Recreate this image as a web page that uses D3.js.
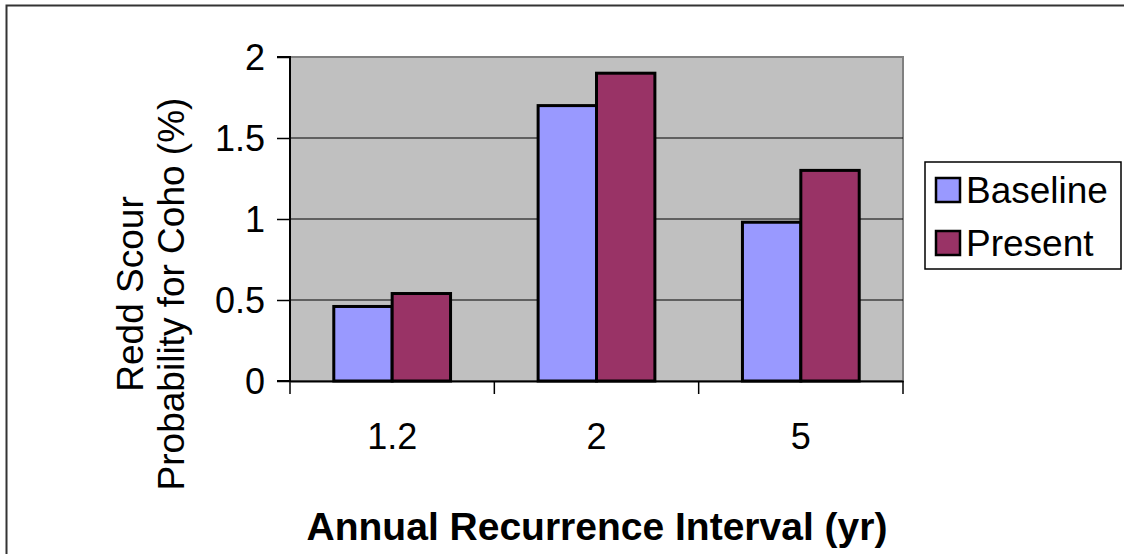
<!DOCTYPE html>
<html><head><meta charset="utf-8">
<script src="https://cdn.jsdelivr.net/npm/d3@7"></script>
<style>html,body{margin:0;padding:0;background:#fff;}svg{display:block;font-family:"Liberation Sans",Arial,sans-serif;}</style>
</head><body>
<script>
const categories = ["1.2", "2", "5"];
const seriesNames = ["Baseline", "Present"];
const baseline = [0.46, 1.70, 0.98];
const present = [0.54, 1.90, 1.30];
const yTicks = [0, 0.5, 1, 1.5, 2];
const colors = ["#9999FF", "#993366"];

const W = 1124, H = 554;
const FS = 36;
const svg = d3.select("body").append("svg").attr("width", W).attr("height", H);
svg.append("path").attr("d", "M6.5,554 V5.5 H1124").attr("fill", "none").attr("stroke", "#333").attr("stroke-width", 2);

const plot = {l: 290, r: 903, t: 57, b: 381};
const x0 = d3.scaleBand().domain(categories).range([plot.l, plot.r]).paddingInner(0).paddingOuter(0);
const bw = x0.bandwidth() / 3.5;
const x1 = d3.scaleBand().domain(seriesNames).range([0, 2 * bw]);
const y = d3.scaleLinear().domain([0, 2]).range([plot.b, plot.t]);

svg.append("rect").attr("x", plot.l).attr("y", plot.t).attr("width", plot.r - plot.l).attr("height", plot.b - plot.t)
  .attr("fill", "#C0C0C0").attr("stroke", "#808080").attr("stroke-width", 2);

svg.append("g").selectAll("line").data(yTicks.filter(d => d > 0 && d < 2)).join("line")
  .attr("x1", plot.l).attr("x2", plot.r).attr("y1", d => y(d)).attr("y2", d => y(d))
  .attr("stroke", "#000").attr("stroke-width", 1);

const data = categories.map((c, i) => ({cat: c, vals: [baseline[i], present[i]]}));
const g = svg.append("g");
data.forEach(d => {
  const gx = x0(d.cat) + (x0.bandwidth() - 2 * bw) / 2;
  g.selectAll(null).data(d.vals).join("rect")
    .attr("x", (v, j) => gx + x1(seriesNames[j]))
    .attr("y", v => y(v))
    .attr("width", bw)
    .attr("height", v => y(0) - y(v))
    .attr("fill", (v, j) => colors[j])
    .attr("stroke", "#000").attr("stroke-width", 3);
});

const yAxis = d3.axisLeft(y).tickValues(yTicks).tickSize(13).tickFormat(d3.format("~g"));
const ya = svg.append("g").attr("transform", `translate(${plot.l},0)`).call(yAxis);
ya.select(".domain").attr("stroke", "#000").attr("stroke-width", 2).attr("d", `M-13,${plot.t}H0V${plot.b}H-13`);
ya.selectAll(".tick line").attr("stroke", "#000").attr("stroke-width", 1.5);
ya.selectAll("text").attr("font-size", FS).attr("fill", "#000").attr("x", -25).attr("dy", "0.35em").attr("font-family", "Liberation Sans, Arial, sans-serif");

const xAxis = d3.axisBottom(x0).tickSize(0).tickPadding(0);
const xa = svg.append("g").attr("transform", `translate(0,${plot.b})`).call(xAxis);
xa.select(".domain").attr("stroke", "#000").attr("stroke-width", 2);
xa.selectAll(".tick text").attr("font-size", FS).attr("fill", "#000").attr("dy", 0).attr("y", 68).attr("font-family", "Liberation Sans, Arial, sans-serif");
const bounds = [plot.l, ...categories.map(c => x0(c) + x0.bandwidth())];
xa.append("g").selectAll("line").data(bounds).join("line")
  .attr("x1", d => d).attr("x2", d => d).attr("y1", 0).attr("y2", 13)
  .attr("stroke", "#000").attr("stroke-width", 1.5);

svg.append("text").attr("x", 597).attr("y", 540).attr("text-anchor", "middle")
  .attr("font-size", 39).attr("font-weight", "bold").text("Annual Recurrence Interval (yr)");
const yt = svg.append("text").attr("transform", `translate(0,${(plot.t + plot.b) / 2 + 75}) rotate(-90)`).attr("text-anchor", "middle").attr("font-size", 37);
yt.append("tspan").attr("x", 0).attr("y", 143).text("Redd Scour");
yt.append("tspan").attr("x", 0).attr("y", 184).text("Probability for Coho (%)");

const lg = svg.append("g");
lg.append("rect").attr("x", 925).attr("y", 162).attr("width", 196).attr("height", 107)
  .attr("fill", "#fff").attr("stroke", "#000").attr("stroke-width", 1.5);
seriesNames.forEach((s, i) => {
  const yy = 190 + i * 53;
  lg.append("rect").attr("x", 936).attr("y", yy - 12).attr("width", 24).attr("height", 24)
    .attr("fill", colors[i]).attr("stroke", "#000").attr("stroke-width", 2.5);
  lg.append("text").attr("x", 966).attr("y", yy + 13).attr("font-size", 37).text(s);
});
</script>
</body></html>
